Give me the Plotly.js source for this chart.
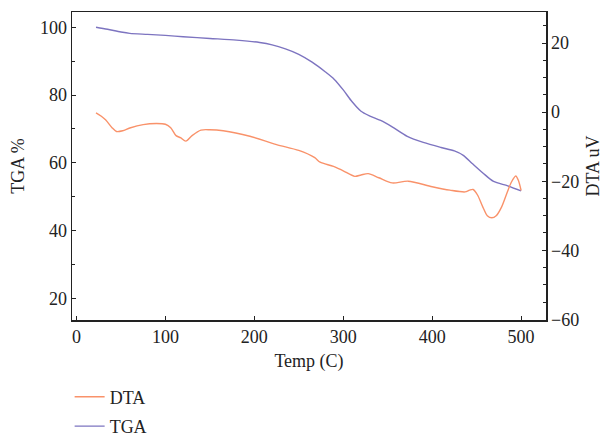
<!DOCTYPE html>
<html>
<head>
<meta charset="utf-8">
<script src="https://cdn.plot.ly/plotly-3.0.1.min.js"></script>
<style>html,body{margin:0;padding:0;background:#fff;}#chart{width:608px;height:438px;}</style>
</head>
<body>
<div id="chart"></div>
<script>
const tgaTemp = [22, 35, 50, 60, 80, 100, 120, 150, 180, 206, 220, 235, 250, 265, 280, 290, 300, 310, 320, 330, 342, 355, 372, 390, 410, 425, 435, 445, 457, 469, 485, 500];
const tgaValues = [100, 99.4, 98.6, 98.2, 97.9, 97.6, 97.2, 96.7, 96.2, 95.5, 94.8, 93.6, 92, 89.7, 86.8, 84.6, 81.5, 78, 75.2, 73.8, 72.5, 70.6, 67.8, 66, 64.5, 63.5, 62.2, 59.8, 57, 54.5, 53.2, 51.7];

const dtaTemp = [22, 28, 33, 40, 45, 52, 60, 75, 90, 100, 106, 112, 117, 123, 130, 140, 150, 165, 195, 225, 250, 268, 274, 289, 300, 313, 320, 328, 340, 355, 373, 400, 420, 437, 442, 446, 451, 457, 462, 467, 472, 478, 484, 489, 494, 497, 500];
const dtaValues = [-0.2, -1.2, -2.3, -4.5, -5.6, -5.4, -4.6, -3.6, -3.3, -3.5, -4.5, -6.8, -7.4, -8.4, -6.8, -5.2, -5.1, -5.4, -7, -9.4, -11.1, -13.2, -14.5, -15.7, -17, -18.6, -18.2, -17.8, -19, -20.5, -20, -21.6, -22.6, -23.1, -22.6, -22.4, -24, -27.5, -30, -30.6, -30, -27.5, -23.5, -20.3, -18.5, -19.8, -22.7];

const xTicks = [0, 100, 200, 300, 400, 500];
const leftTicks = [20, 40, 60, 80, 100];
const rightTicks = [-60, -40, -20, 0, 20];

const font = {family: 'Liberation Serif, Times New Roman, serif', size: 18, color: '#222'};

const traces = [
  {x: dtaTemp, y: dtaValues, name: 'DTA', yaxis: 'y2', mode: 'lines', legendgroup: 'a',
   line: {color: '#f9926a', width: 1.4, shape: 'spline', smoothing: 0.8}},
  {x: tgaTemp, y: tgaValues, name: 'TGA', yaxis: 'y', mode: 'lines', legendgroup: 'b',
   line: {color: '#7d74c0', width: 1.4, shape: 'spline', smoothing: 0.8}}
];

const layout = {
  width: 608, height: 438,
  margin: {l: 72, r: 62, t: 12, b: 118, autoexpand: false},
  paper_bgcolor: '#fff', plot_bgcolor: '#fff',
  font: font,
  showlegend: true,
  legend: {x: -0.005, xanchor: 'left', y: -0.19, yanchor: 'top', orientation: 'v',
           traceorder: 'grouped', tracegroupgap: 3,
           font: font, bgcolor: 'rgba(0,0,0,0)', itemwidth: 30},
  xaxis: {range: [-5, 528], tickvals: xTicks, ticktext: xTicks.map(String), automargin: false,
          ticks: 'inside', ticklen: 4, tickcolor: '#222', showline: true, linecolor: '#222', linewidth: 1.5,
          mirror: true, showgrid: false, zeroline: false,
          title: {text: 'Temp (C)', font: font, standoff: 8}},
  yaxis: {range: [13.6, 104.5], tickvals: leftTicks, ticktext: leftTicks.map(String), automargin: false,
          ticks: 'inside', ticklen: 4, tickcolor: '#222', showline: true, linecolor: '#222', linewidth: 1.5,
          mirror: true, showgrid: false, zeroline: false,
          minor: {dtick: 10, ticks: 'inside', ticklen: 3, tickcolor: '#222', showgrid: false},
          title: {text: 'TGA %', font: font, standoff: 10}},
  yaxis2: {range: [-60.2, 29], overlaying: 'y', side: 'right', tickvals: rightTicks, automargin: false,
           ticktext: rightTicks.map(v => v < 0 ? '\u2212' + Math.abs(v) : String(v)),
           ticks: 'inside', ticklen: 4, tickcolor: '#222', showline: true, linecolor: '#222', linewidth: 1.5,
           showgrid: false, zeroline: false,
           minor: {dtick: 5, ticks: 'inside', ticklen: 3, tickcolor: '#222', showgrid: false},
           title: {text: 'DTA uV', font: font, standoff: 8}}
};

Plotly.newPlot('chart', traces, layout, {displayModeBar: false, staticPlot: true});
</script>
</body>
</html>
